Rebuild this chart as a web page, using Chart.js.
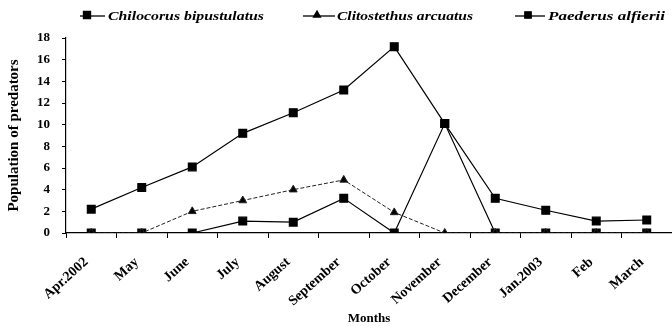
<!DOCTYPE html>
<html><head><meta charset="utf-8">
<script src="https://cdn.jsdelivr.net/npm/chart.js@4"></script>
<style>html,body{margin:0;padding:0;background:#fff}#wrap{width:672px;height:326px;position:relative}</style>
</head><body><div id="wrap"><canvas id="c"></canvas></div>
<script>
// Monthly predator counts, April 2002 – March 2003
const months = ['Apr.2002','May','June','July','August','September','October','November','December','Jan.2003','Feb','March'];
const chilocorus = [2.2, 4.2, 6.1, 9.2, 11.1, 13.2, 17.2, 10.1, 3.2, 2.1, 1.1, 1.2];
const clitostethus = [0, 0, 2, 3, 4, 4.9, 1.9, 0, 0, 0, 0, 0];
const paederus = [0, 0, 0, 1.1, 1, 3.2, 0, 10.1, 0, 0, 0, 0];
const yTicks = [0, 2, 4, 6, 8, 10, 12, 14, 16, 18];
const seriesNames = ['Chilocorus bipustulatus', 'Clitostethus arcuatus', 'Paederus alfierii'];

const serif = '"Liberation Serif", "Times New Roman", serif';

// Legend row along the top: short line with marker, then the italic species name
const topLegend = {
  id: 'topLegend',
  afterDraw(chart) {
    const ctx = chart.ctx;
    const y = 16;
    const items = [
      {x0: 80, x1: 105, mx: 87, style: 'rect', r: 5, tx: 108, tw: 156},
      {x0: 303, x1: 335, mx: 317, style: 'triangle', r: 4, tx: 337, tw: 136},
      {x0: 515, x1: 545, mx: 528, style: 'rect', r: 4.5, tx: 548, tw: 117}
    ];
    ctx.save();
    items.forEach((it, i) => {
      ctx.strokeStyle = '#000';
      ctx.lineWidth = 1.3;
      ctx.beginPath(); ctx.moveTo(it.x0, y); ctx.lineTo(it.x1, y); ctx.stroke();
      ctx.fillStyle = '#000';
      Chart.helpers.drawPoint(ctx, {pointStyle: it.style, radius: it.r, rotation: 0, borderWidth: 1}, it.mx, y - 1);
      ctx.fill();
      ctx.font = 'italic bold 12.5px ' + serif;
      ctx.textBaseline = 'middle';
      ctx.textAlign = 'left';
      const name = seriesNames[i];
      const w = ctx.measureText(name).width;
      // the names are set in a wide face: stretch horizontally to the printed width
      ctx.save();
      ctx.translate(it.tx, y + 1);
      ctx.scale(it.tw / w, 1);
      ctx.fillText(name, 0, 0);
      ctx.restore();
    });
    ctx.restore();
  }
};

new Chart(document.getElementById('c'), {
  type: 'line',
  data: {
    labels: months,
    datasets: [
      {label: seriesNames[0], data: chilocorus, borderColor: '#000', backgroundColor: '#000',
       borderWidth: 1.2, pointStyle: 'rect', pointRadius: 5.5, tension: 0},
      {label: seriesNames[1], data: clitostethus, borderColor: '#222', backgroundColor: '#000',
       borderWidth: 1, borderDash: [4, 2], pointStyle: 'triangle', pointRadius: 4.5, tension: 0},
      {label: seriesNames[2], data: paederus, borderColor: '#000', backgroundColor: '#000',
       borderWidth: 1.2, pointStyle: 'rect', pointRadius: 5.5, tension: 0}
    ]
  },
  options: {
    responsive: true,
    maintainAspectRatio: false,
    animation: false,
    devicePixelRatio: 1,
    layout: {autoPadding: false, padding: {top: 38, right: 0, left: 0, bottom: 0}},
    plugins: {legend: {display: false}, tooltip: {enabled: false}},
    scales: {
      x: {
        offset: true,
        grid: {display: true, drawOnChartArea: false, offset: true, tickLength: 5, color: '#000', tickWidth: 1},
        border: {color: '#000', width: 1.2},
        ticks: {color: '#000', font: {family: serif, weight: 'bold', size: 14}, maxRotation: 42, minRotation: 42, padding: 16, labelOffset: -5, autoSkip: false},
        title: {display: true, text: 'Months', color: '#000', font: {family: serif, weight: 'bold', size: 13}, padding: {top: 0, bottom: 0}},
        afterFit(s) { s.height = 93; s.paddingLeft = 0; s.paddingRight = 0; }
      },
      y: {
        min: 0, max: 18,
        afterBuildTicks(s) { s.ticks = yTicks.map(v => ({value: v})); },
        grid: {display: true, drawOnChartArea: false, tickLength: 4, color: '#000'},
        border: {color: '#000', width: 1.2},
        ticks: {color: '#000', font: {family: serif, weight: 'bold', size: 13}, padding: 12},
        title: {display: true, text: 'Population of predators', color: '#000', font: {family: serif, weight: 'bold', size: 15}, padding: {top: 5, bottom: 2}},
        afterFit(s) { s.width = 66; }
      }
    }
  },
  plugins: [topLegend]
});
</script>
</body></html>
